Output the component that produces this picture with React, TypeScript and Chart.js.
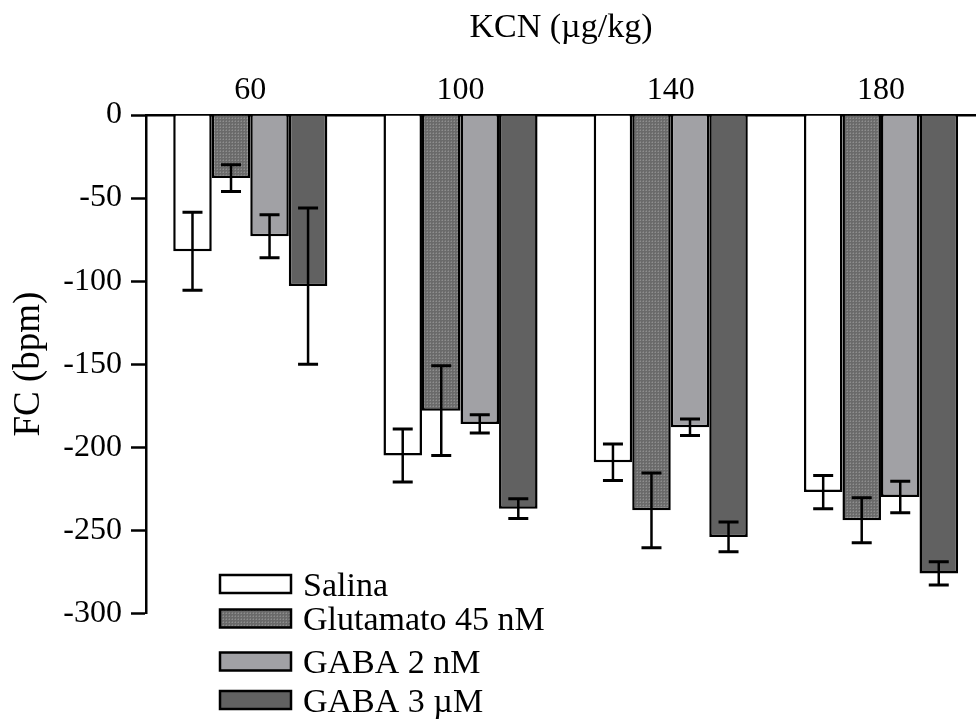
import React, { useEffect, useRef } from 'react';
import { Chart, registerables } from 'chart.js';

Chart.register(...registerables);

const doses = ['60', '100', '140', '180'];
const seriesNames = ['Salina', 'Glutamato 45 nM', 'GABA 2 nM', 'GABA 3 µM'];

const salina = [-82, -205, -209, -227];
const salinaErr = [23.5, 16, 11, 10];
const glutamato = [-38, -178, -238, -244];
const glutamatoErr = [8, 27, 22.5, 13.5];
const gaba2 = [-73, -186, -188, -230];
const gaba2Err = [13, 5.5, 5, 9.5];
const gaba3 = [-103, -237, -254, -276];
const gaba3Err = [47, 6, 9, 7];

const yMin = -300;
const yMax = 0;
const yStep = 50;

const xTitle = 'KCN (µg/kg)';
const yTitle = 'FC (bpm)';

const FONT = "'Liberation Serif', 'Times New Roman', serif";

function makeStipple(): CanvasPattern | string {
  const c = document.createElement('canvas');
  c.width = 3;
  c.height = 3;
  const g = c.getContext('2d');
  if (!g) return '#777777';
  g.fillStyle = '#6a6a6a';
  g.fillRect(0, 0, 3, 3);
  g.fillStyle = '#8e8e8e';
  g.fillRect(1, 1, 1, 1);
  g.fillStyle = '#7c7c7c';
  g.fillRect(1, 0, 1, 1);
  g.fillRect(0, 1, 1, 1);
  const p = g.createPattern(c, 'repeat');
  return p || '#777777';
}

const errorBarsPlugin = {
  id: 'errorBars',
  afterDatasetsDraw(chart: any) {
    const ctx = chart.ctx;
    const ys = chart.scales.y;
    chart.data.datasets.forEach((ds: any, di: number) => {
      const meta = chart.getDatasetMeta(di);
      meta.data.forEach((bar: any, i: number) => {
        const v = ds.data[i].y;
        const e = ds.errors[i];
        const top = ys.getPixelForValue(v + e);
        const bot = ys.getPixelForValue(v - e);
        const x = bar.x;
        ctx.save();
        ctx.strokeStyle = '#000';
        ctx.lineWidth = 2.5;
        ctx.beginPath();
        ctx.moveTo(x, top);
        ctx.lineTo(x, bot);
        ctx.stroke();
        ctx.lineWidth = 3;
        ctx.beginPath();
        ctx.moveTo(x - 10, top);
        ctx.lineTo(x + 10, top);
        ctx.moveTo(x - 10, bot);
        ctx.lineTo(x + 10, bot);
        ctx.stroke();
        ctx.restore();
      });
    });
  },
};

const legendRowsTop = [575, 609.5, 652.5, 691];

const customLegendPlugin = {
  id: 'customLegend',
  afterDraw(chart: any) {
    const ctx = chart.ctx;
    ctx.save();
    chart.data.datasets.forEach((ds: any, i: number) => {
      const y = legendRowsTop[i];
      ctx.fillStyle = ds.backgroundColor;
      ctx.fillRect(220, y, 71, 18);
      ctx.strokeStyle = '#000';
      ctx.lineWidth = 2.5;
      ctx.strokeRect(220, y, 71, 18);
      ctx.fillStyle = '#000';
      ctx.font = `34px ${FONT}`;
      ctx.textBaseline = 'alphabetic';
      ctx.textAlign = 'left';
      ctx.fillText(ds.label, 303, y + 20.5);
    });
    ctx.restore();
  },
};

export default function App() {
  const ref = useRef<HTMLCanvasElement | null>(null);

  useEffect(() => {
    if (!ref.current) return;
    const stipple = makeStipple();
    const series = [
      { values: salina, errors: salinaErr, color: '#ffffff' as any },
      { values: glutamato, errors: glutamatoErr, color: stipple as any },
      { values: gaba2, errors: gaba2Err, color: '#a1a1a5' as any },
      { values: gaba3, errors: gaba3Err, color: '#616161' as any },
    ];
    const chart = new Chart(ref.current, {
      type: 'bar',
      data: {
        datasets: series.map((s, k) => ({
          label: seriesNames[k],
          data: s.values.map((v, i) => ({ x: i, y: v })),
          errors: s.errors,
          backgroundColor: s.color,
          borderColor: '#000',
          borderWidth: 2.5,
          categoryPercentage: 0.733,
          barPercentage: 1.0,
        })) as any,
      },
      options: {
        responsive: true,
        maintainAspectRatio: false,
        animation: false,
        layout: { padding: { top: 4, left: 3, right: 0, bottom: 108.7 } },
        plugins: {
          legend: { display: false },
          tooltip: { enabled: false },
        },
        scales: {
          x: {
            type: 'linear',
            position: 'top',
            offset: false,
            min: -0.496,
            max: 3.452,
            afterBuildTicks: (s: any) => {
              s.ticks = doses.map((_, i) => ({ value: i }));
            },
            afterFit: (s: any) => {
              s.height = 111;
            },
            ticks: {
              callback: (v: any) => doses[v] ?? '',
              font: { family: FONT, size: 32 },
              color: '#000',
              padding: 5,
              maxRotation: 0,
              autoSkip: false,
            },
            grid: { display: false, drawTicks: false, tickLength: 0, offset: false },
            border: { display: true, color: '#000', width: 2.5 },
            title: {
              display: true,
              text: xTitle,
              font: { family: FONT, size: 34 },
              color: '#000',
              padding: { top: 4, bottom: 4 },
            },
          },
          y: {
            min: yMin,
            max: yMax,
            afterFit: (s: any) => {
              s.width = 143;
            },
            ticks: {
              stepSize: yStep,
              font: { family: FONT, size: 32 },
              color: '#000',
              padding: 9,
            },
            grid: {
              display: true,
              drawOnChartArea: false,
              drawTicks: true,
              tickLength: 15,
              tickWidth: 2.5,
              tickColor: '#000',
            },
            border: { display: true, color: '#000', width: 2.5 },
            title: {
              display: true,
              text: yTitle,
              font: { family: FONT, size: 37 },
              color: '#000',
              padding: { top: 4, bottom: 4 },
            },
          },
        } as any,
      },
      plugins: [errorBarsPlugin, customLegendPlugin],
    });
    return () => chart.destroy();
  }, []);

  return (
    <div style={{ position: 'absolute', left: 0, top: 0, width: 976, height: 722, background: '#fff' }}>
      <canvas ref={ref} />
    </div>
  );
}
